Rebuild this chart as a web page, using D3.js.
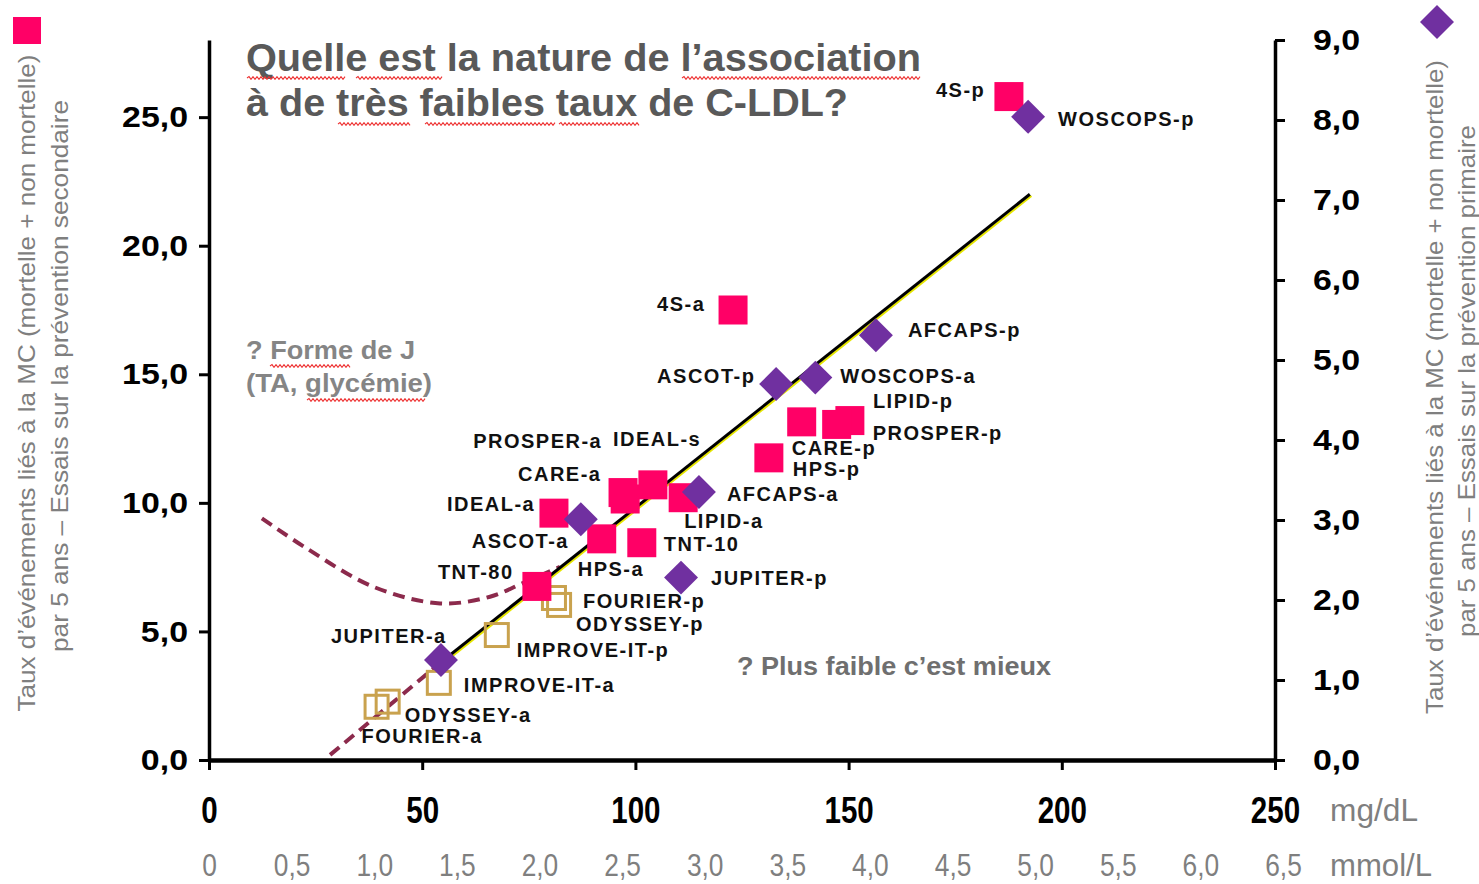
<!DOCTYPE html>
<html>
<head>
<meta charset="utf-8">
<script src="https://cdn.jsdelivr.net/npm/d3@7"></script>
<style>
  body { margin: 0; background: #fff; }
  svg { display: block; font-family: "Liberation Sans", Arial, sans-serif; }
</style>
</head>
<body>
<svg id="chart" width="1479" height="884"></svg>
<script>
// ---- Secondary prevention trials (left axis, % events / 5 years) ----
const secondaryTrials = ["4S-p", "4S-a", "LIPID-p", "PROSPER-p", "CARE-p", "HPS-p", "CARE-a", "PROSPER-a", "IDEAL-s", "LIPID-a", "IDEAL-a", "HPS-a", "TNT-10", "TNT-80"];
const secondaryLdl  = [187.6, 122.9, 150.3, 147.2, 139.0, 131.3, 97.1, 97.6, 104.1, 111.2, 80.9, 92.1, 101.5, 76.9];
const secondaryRate = [25.8, 17.5, 13.2, 13.05, 13.15, 11.75, 10.4, 10.15, 10.7, 10.2, 9.6, 8.6, 8.45, 6.75];

// ---- Primary prevention trials (right axis) ----
const primaryTrials = ["WOSCOPS-p", "AFCAPS-p", "WOSCOPS-a", "ASCOT-p", "AFCAPS-a", "ASCOT-a", "JUPITER-p", "JUPITER-a"];
const primaryLdl  = [192.1, 156.4, 142.2, 133.0, 114.9, 87.2, 110.7, 54.4];
const primaryRate = [8.04, 5.31, 4.78, 4.7, 3.35, 3.01, 2.28, 1.25];

// ---- Recent trials (open squares, left axis) ----
const recentTrials = ["FOURIER-p", "ODYSSEY-p", "IMPROVE-IT-p", "IMPROVE-IT-a", "ODYSSEY-a", "FOURIER-a"];
const recentLdl  = [80.9, 82.1, 67.5, 53.9, 41.9, 39.3];
const recentRate = [6.3, 6.03, 4.86, 3.0, 2.27, 2.07];

// ---- Regression line, its low extension and the hypothetical J curve ----
const trendLdl  = [54.4, 192.5];
const trendRate = [3.8, 22.0];
const extLdl  = [28.4, 54.4];
const extRate = [0.2, 3.8];
const jLdl  = [12.4, 22.9, 38.5, 54.2, 65.9, 73.6, 82.3];
const jRate = [9.4, 8.23, 6.74, 6.09, 6.35, 6.88, 7.51];

// ---- Axis ticks ----
const mgTicks    = [0, 50, 100, 150, 200, 250];
const mmolTicks  = [0, 0.5, 1, 1.5, 2, 2.5, 3, 3.5, 4, 4.5, 5, 5.5, 6, 6.5];
const leftTicks  = [0, 5, 10, 15, 20, 25];
const rightTicks = [0, 1, 2, 3, 4, 5, 6, 7, 8, 9];

// ---- Texts ----
const titleLines = ["Quelle est la nature de l\u2019association", "à de très faibles taux de C-LDL?"];
const leftTitle  = ["Taux d\u2019événements liés à la MC (mortelle + non mortelle)", "par 5 ans \u2013 Essais sur la prévention secondaire"];
const rightTitle = ["Taux d\u2019événements liés à la MC (mortelle + non mortelle)", "par 5 ans \u2013 Essais sur la prévention primaire"];
const jNote   = ["? Forme de J", "(TA, glycémie)"];
const lowNote = "? Plus faible c\u2019est mieux";

// Label placement around each marker: [dx, dy] from marker centre to label start / middle
const labelOffset = {
  "4S-p": [-73, -7], "WOSCOPS-p": [30, 2], "4S-a": [-76, -6], "AFCAPS-p": [32, -5],
  "ASCOT-p": [-119, -8], "WOSCOPS-a": [25, -2], "LIPID-p": [23, -20], "PROSPER-p": [36, 9],
  "CARE-p": [-10, 26], "HPS-p": [24, 11], "PROSPER-a": [-152, -58], "IDEAL-s": [-40, -46],
  "CARE-a": [-105, -19], "IDEAL-a": [-107, -9], "AFCAPS-a": [28, 2], "LIPID-a": [1, 23],
  "ASCOT-a": [-109, 22], "TNT-10": [22, 1], "HPS-a": [-24, 30], "TNT-80": [-99, -14],
  "JUPITER-p": [30, 0], "FOURIER-p": [29, 3], "ODYSSEY-p": [17, 19], "JUPITER-a": [-110, -24],
  "IMPROVE-IT-p": [20, 15], "IMPROVE-IT-a": [25, 2], "ODYSSEY-a": [17, 13], "FOURIER-a": [-15, 29]
};

const PINK = "#ff0066", PURPLE = "#7030a0", GOLD = "#c9a24e", MAROON = "#8c2a4c";
const GREY = "#7f7f7f", DARKGREY = "#595959";

const svg = d3.select("#chart");

const x     = d3.scaleLinear().domain([0, 250]).range([209, 1275]);
const xMmol = d3.scaleLinear().domain([0, 6.5]).range([209, 1283]);
const yL    = d3.scaleLinear().domain([0, 28]).range([760, 40]);
const yR    = d3.scaleLinear().domain([0, 9]).range([760, 40]);

const comma = d => d3.format(".1f")(d).replace(".", ",");

// widen / narrow glyph runs by a factor of their natural width
function stretch(sel, f) {
  sel.each(function () {
    const w = this.getComputedTextLength();
    this.setAttribute("textLength", w * f);
    this.setAttribute("lengthAdjust", "spacingAndGlyphs");
  });
}
function fitTo(sel, w) {
  sel.attr("textLength", w).attr("lengthAdjust", "spacingAndGlyphs");
}
function wavy(x1, x2, y) {
  const p = d3.path();
  p.moveTo(x1, y);
  let up = true;
  for (let xx = x1 + 2; xx <= x2; xx += 2) { p.lineTo(xx, y + (up ? -1.4 : 1.4)); up = !up; }
  svg.append("path").attr("d", p.toString()).attr("fill", "none")
    .attr("stroke", "#ee3333").attr("stroke-width", 1.1);
}

// ---- Axes ----
const axisStyle = (g, w) => {
  g.select(".domain").attr("stroke", "#000").attr("stroke-width", w);
  g.selectAll(".tick line").attr("stroke", "#000").attr("stroke-width", 3);
};

const gLeft = svg.append("g").attr("transform", "translate(209,0)")
  .call(d3.axisLeft(yL).tickValues(leftTicks).tickFormat(comma).tickSize(10).tickSizeOuter(0).tickPadding(11));
axisStyle(gLeft, 3.5);
gLeft.selectAll("text").attr("font-size", 30).attr("font-weight", "bold").attr("fill", "#000")
  .attr("font-family", "Liberation Sans, Arial, sans-serif").call(stretch, 1.13);

const gRight = svg.append("g").attr("transform", "translate(1275,0)")
  .call(d3.axisRight(yR).tickValues(rightTicks).tickFormat(comma).tickSize(10).tickSizeOuter(0).tickPadding(28));
axisStyle(gRight, 3.5);
gRight.selectAll("text").attr("font-size", 30).attr("font-weight", "bold").attr("fill", "#000")
  .attr("font-family", "Liberation Sans, Arial, sans-serif").call(stretch, 1.13);

const gBottom = svg.append("g").attr("transform", "translate(0,760)")
  .call(d3.axisBottom(x).tickValues(mgTicks).tickFormat(d3.format("d")).tickSize(10).tickSizeOuter(0).tickPadding(27));
axisStyle(gBottom, 4.5);
gBottom.selectAll("text").attr("font-size", 36).attr("font-weight", "bold").attr("fill", "#000")
  .attr("font-family", "Liberation Sans, Arial, sans-serif").call(stretch, 0.82);

const gMmol = svg.append("g").attr("transform", "translate(0,854)")
  .call(d3.axisBottom(xMmol).tickValues(mmolTicks).tickFormat(d => d === 0 ? "0" : comma(d)).tickSize(0).tickPadding(0));
gMmol.select(".domain").remove();
gMmol.selectAll("text").attr("font-size", 31).attr("fill", GREY)
  .attr("font-family", "Liberation Sans, Arial, sans-serif").call(stretch, 0.85);

svg.append("text").attr("x", 1330).attr("y", 821).text("mg/dL")
  .attr("font-size", 32).attr("fill", GREY).call(fitTo, 88);
svg.append("text").attr("x", 1330).attr("y", 876).text("mmol/L")
  .attr("font-size", 31).attr("fill", GREY).call(fitTo, 102);

// ---- Rotated axis titles ----
function vTitle(lines, cx, cy, lens) {
  lines.forEach((t, i) => {
    svg.append("text")
      .attr("transform", `translate(${cx[i]},${cy[i]}) rotate(-90)`)
      .attr("text-anchor", "middle").attr("dy", "0.35em")
      .attr("font-size", 24).attr("fill", GREY).text(t).call(fitTo, lens[i]);
  });
}
vTitle(leftTitle, [27, 60], [383, 376], [657, 552]);
vTitle(rightTitle, [1435, 1467], [387, 381], [654, 512]);

// legend markers for the two series
svg.append("rect").attr("x", 13).attr("y", 17).attr("width", 28).attr("height", 27).attr("fill", PINK);
svg.append("path").attr("d", d3.symbol(d3.symbolSquare, 24 * 24)())
  .attr("transform", "translate(1437,22) rotate(45)").attr("fill", PURPLE);

// ---- Title ----
svg.append("text").attr("x", 246).attr("y", 71).text(titleLines[0])
  .attr("font-size", 38).attr("font-weight", "bold").attr("fill", DARKGREY).call(fitTo, 675);
svg.append("text").attr("x", 246).attr("y", 116).text(titleLines[1])
  .attr("font-size", 38).attr("font-weight", "bold").attr("fill", DARKGREY).call(fitTo, 602);
wavy(247, 345, 78); wavy(356, 442, 78); wavy(682, 921, 78);
wavy(338, 410, 124); wavy(425, 556, 124); wavy(559, 640, 124);

// ---- Notes ----
svg.append("text").attr("x", 246).attr("y", 359).text(jNote[0])
  .attr("font-size", 26).attr("font-weight", "bold").attr("fill", "#858585").call(fitTo, 169);
svg.append("text").attr("x", 246).attr("y", 392).text(jNote[1])
  .attr("font-size", 26).attr("font-weight", "bold").attr("fill", "#858585").call(fitTo, 186);
wavy(270, 350, 366); wavy(307, 425, 400);
svg.append("text").attr("x", 737).attr("y", 675).text(lowNote)
  .attr("font-size", 26).attr("font-weight", "bold").attr("fill", "#6f6f6f").call(fitTo, 314);

// ---- Lines ----
const lineL = d3.line().x(d => x(d[0])).y(d => yL(d[1]));
const jLine = d3.line().curve(d3.curveCatmullRom).x(d => x(d[0])).y(d => yL(d[1]));

svg.append("path").attr("d", jLine(d3.zip(jLdl, jRate))).attr("fill", "none")
  .attr("stroke", MAROON).attr("stroke-width", 4).attr("stroke-dasharray", "12 7");
svg.append("path").attr("d", lineL(d3.zip(extLdl, extRate))).attr("fill", "none")
  .attr("stroke", MAROON).attr("stroke-width", 4).attr("stroke-dasharray", "12 7");
svg.append("path").attr("d", lineL(d3.zip(trendLdl, trendRate))).attr("fill", "none")
  .attr("transform", "translate(1.6,1.6)").attr("stroke", "#e6e600").attr("stroke-width", 2.2);
svg.append("path").attr("d", lineL(d3.zip(trendLdl, trendRate))).attr("fill", "none")
  .attr("stroke", "#000").attr("stroke-width", 3);

// ---- Markers ----
const recent = recentTrials.map((n, i) => ({ name: n, px: x(recentLdl[i]), py: yL(recentRate[i]) }));
const secondary = secondaryTrials.map((n, i) => ({ name: n, px: x(secondaryLdl[i]), py: yL(secondaryRate[i]) }));
const primary = primaryTrials.map((n, i) => ({ name: n, px: x(primaryLdl[i]), py: yR(primaryRate[i]) }));

svg.append("g").selectAll("rect").data(recent).join("rect")
  .attr("x", d => d.px - 11.5).attr("y", d => d.py - 11.5).attr("width", 23).attr("height", 23)
  .attr("fill", "#fff").attr("fill-opacity", 0).attr("stroke", GOLD).attr("stroke-width", 3);

svg.append("g").selectAll("rect").data(secondary).join("rect")
  .attr("x", d => d.px - 14.5).attr("y", d => d.py - 14.5).attr("width", 29).attr("height", 29)
  .attr("fill", PINK);

const diamond = d3.symbol(d3.symbolSquare, 24 * 24)();
svg.append("g").selectAll("path").data(primary).join("path")
  .attr("d", diamond).attr("transform", d => `translate(${d.px},${d.py}) rotate(45)`)
  .attr("fill", PURPLE);

// ---- Trial labels ----
const all = recent.concat(secondary, primary);
svg.append("g").selectAll("text").data(all).join("text")
  .attr("x", d => d.px + labelOffset[d.name][0])
  .attr("y", d => d.py + labelOffset[d.name][1])
  .attr("dy", "0.35em")
  .attr("font-size", 20).attr("font-weight", "bold").attr("letter-spacing", 1.5)
  .attr("fill", "#111").text(d => d.name);
</script>
</body>
</html>
